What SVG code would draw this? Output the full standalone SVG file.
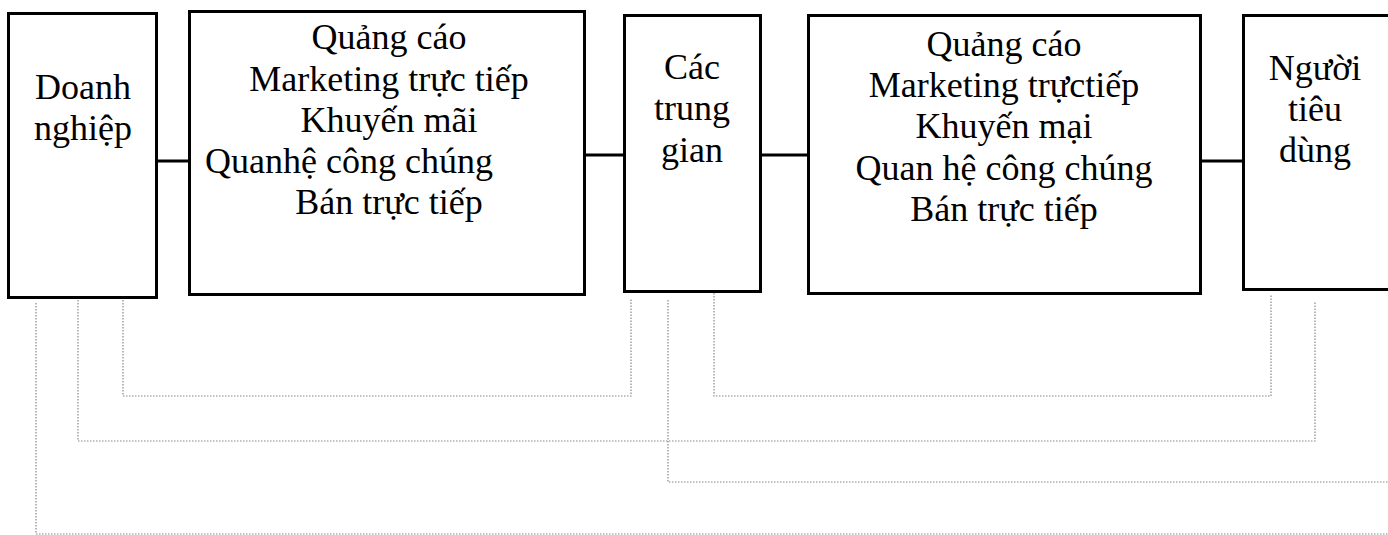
<svg xmlns="http://www.w3.org/2000/svg" width="1388" height="535" viewBox="0 0 1388 535">
<style>
.box{fill:#fff;stroke:#000;stroke-width:3}
.t{font-family:"Liberation Serif","Times New Roman",serif;font-size:36px;fill:#000}
.m{text-anchor:middle}
.solid{stroke:#000;stroke-width:3;fill:none}
.dot{stroke:#888;stroke-width:1.2;fill:none;stroke-dasharray:1.5 1.5}
</style>
<rect width="1388" height="535" fill="#fff"/>
<g id="connectors">
<line class="solid" x1="157" y1="161" x2="190" y2="161"/>
<line class="solid" x1="585" y1="155" x2="624" y2="155"/>
<line class="solid" x1="760" y1="155" x2="808" y2="155"/>
<line class="solid" x1="1200" y1="161" x2="1243" y2="161"/>
<polyline class="dot" points="123,300 123,396 631,396 631,299"/>
<polyline class="dot" points="78,300 78,441 1315,441 1315,302"/>
<polyline class="dot" points="36,303 36,534 1388,534"/>
<polyline class="dot" points="668,300 668,482 1388,482"/>
<polyline class="dot" points="714,293 714,396 1271,396 1271,295"/>
</g>
<g id="doanh-nghiep">
<rect class="box" x="8.5" y="13.5" width="148" height="284"/>
<text class="t m" x="83" y="99">Doanh</text>
<text class="t m" x="83" y="140">nghiệp</text>
</g>
<g id="cong-cu-1">
<rect class="box" x="189.5" y="11.5" width="395" height="283"/>
<text class="t m" x="389" y="49">Quảng cáo</text>
<text class="t m" x="389" y="91">Marketing trực tiếp</text>
<text class="t m" x="389" y="132">Khuyến mãi</text>
<text class="t" x="205" y="173">Quanhệ công chúng</text>
<text class="t m" x="389" y="214">Bán trực tiếp</text>
</g>
<g id="trung-gian">
<rect class="box" x="624.5" y="15.5" width="136" height="276"/>
<text class="t m" x="692" y="79">Các</text>
<text class="t m" x="692" y="120">trung</text>
<text class="t m" x="692" y="162">gian</text>
</g>
<g id="cong-cu-2">
<rect class="box" x="808.5" y="15.5" width="392" height="278"/>
<text class="t m" x="1004" y="56">Quảng cáo</text>
<text class="t m" x="1004" y="97">Marketing trựctiếp</text>
<text class="t m" x="1004" y="138">Khuyến mại</text>
<text class="t m" x="1004" y="180">Quan hệ công chúng</text>
<text class="t m" x="1004" y="221">Bán trực tiếp</text>
</g>
<g id="nguoi-tieu-dung">
<rect class="box" x="1243.5" y="15.5" width="160" height="274"/>
<text class="t m" x="1315" y="80">Người</text>
<text class="t m" x="1315" y="121">tiêu</text>
<text class="t m" x="1315" y="162">dùng</text>
</g>
</svg>
